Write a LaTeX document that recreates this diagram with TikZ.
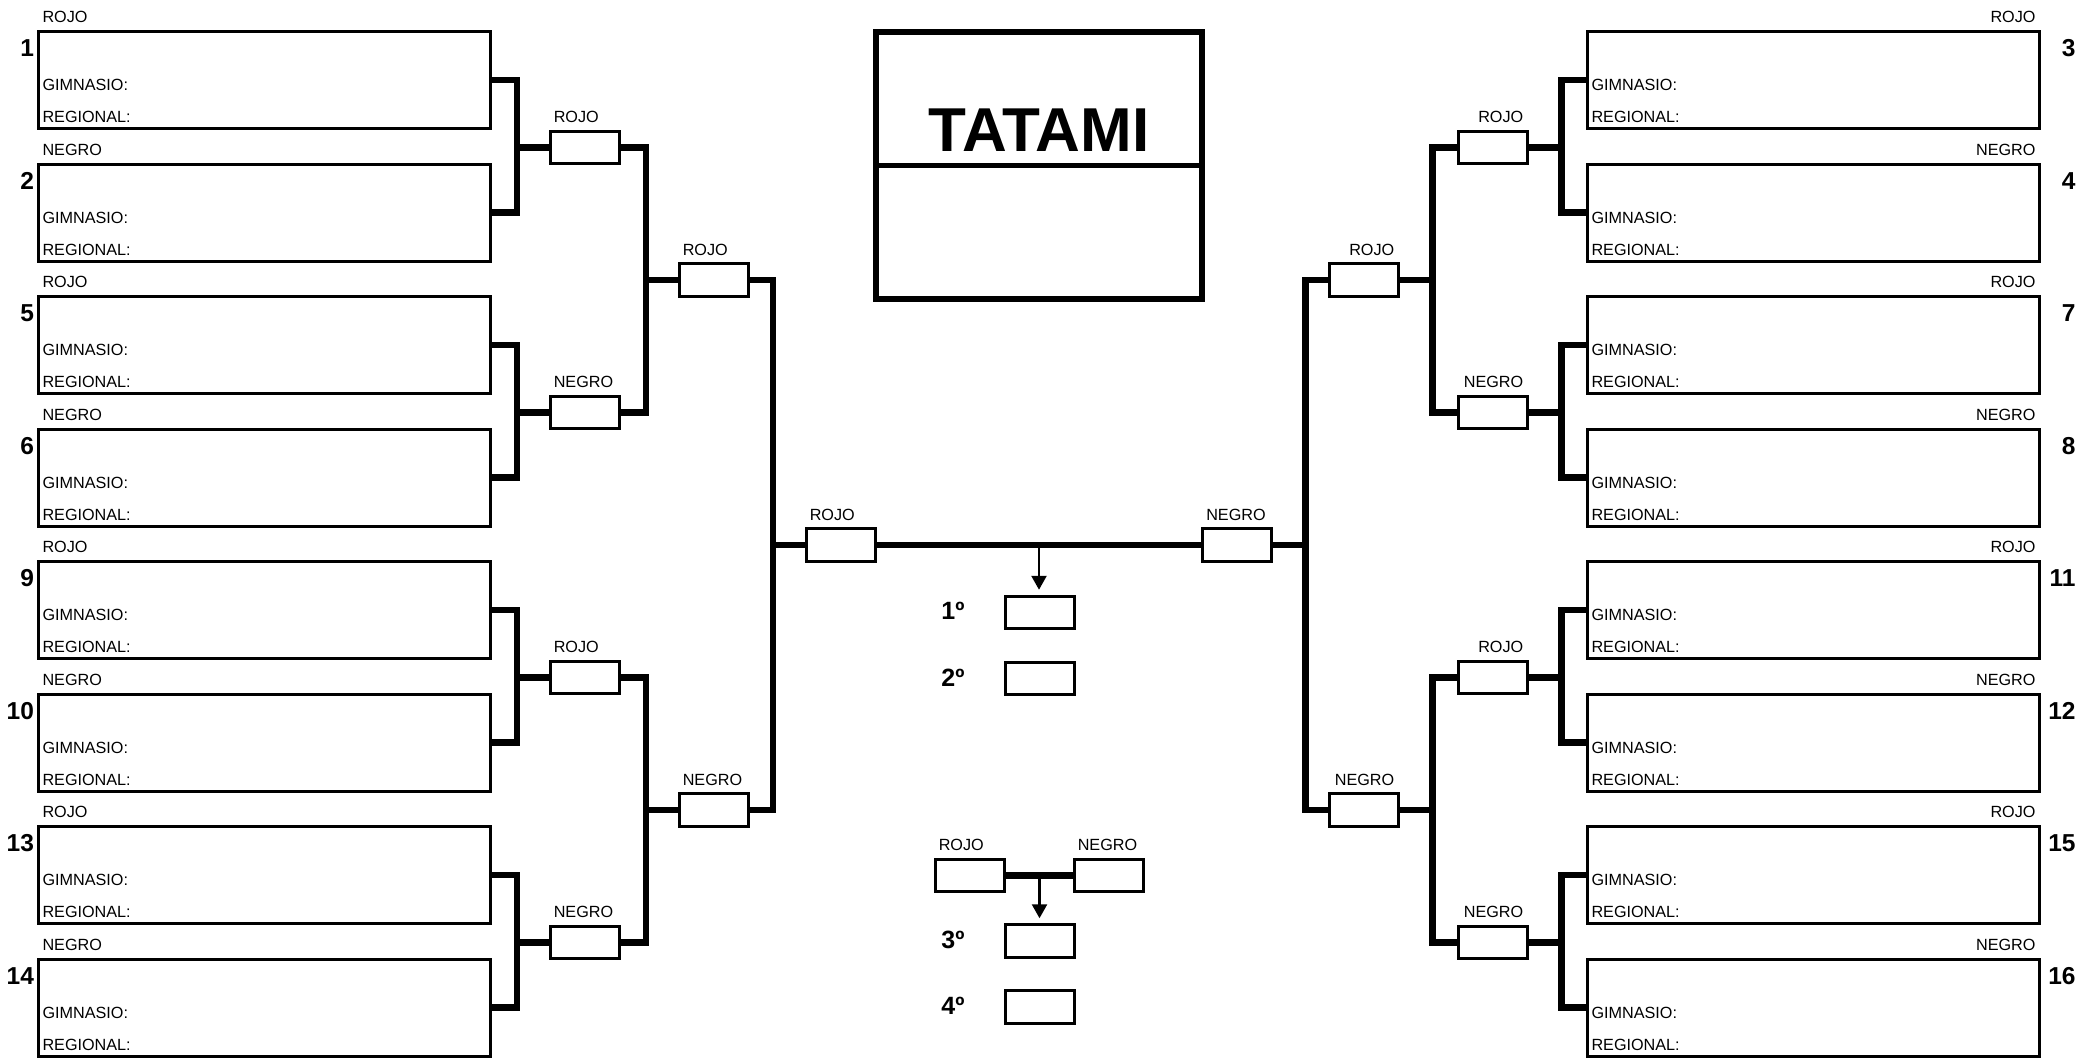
\documentclass[tikz,border=0pt]{standalone}
\usepackage{fontspec}
\setmainfont{Liberation Sans}
\usetikzlibrary{arrows.meta,calc}
\newcommand\lblfont{\fontsize{16.2}{19}\selectfont}
\newcommand\numfont{\fontsize{24.5}{28}\selectfont\bfseries}
\newcommand\placefont{\fontsize{25}{30}\selectfont\bfseries}
\newcommand\tatfont{\fontsize{62}{70}\selectfont\bfseries}
\begin{document}
\begin{tikzpicture}[x=1pt,y=-1pt,
  comp/.style={draw,line width=3pt,minimum width=452pt,minimum height=97pt,inner sep=0pt,outer sep=0pt},
  sbox/.style={draw,line width=3pt,minimum width=68.5pt,minimum height=32.5pt,inner sep=0pt,outer sep=0pt},
  conn/.style={line width=6.5pt},
  txt/.style={inner sep=0pt,outer sep=0pt,font=\lblfont},
  num/.style={inner sep=0pt,outer sep=0pt,font=\numfont},
  plc/.style={inner sep=0pt,outer sep=0pt,font=\placefont},
  arr/.style={line width=2.5pt,-{Triangle[width=15pt,length=14pt]},shorten >=6.5pt}]
\fill[white] (0,0) rectangle (2078,1058);
\useasboundingbox (0,0) rectangle (2078,1058);

% left competitors
\foreach \n/\c [count=\i from 0] in {1/ROJO,2/NEGRO,5/ROJO,6/NEGRO,9/ROJO,10/NEGRO,13/ROJO,14/NEGRO}{
  \node[comp,anchor=north west] (L\i) at (38.5,{31.5+132.53*\i}) {};
  \node[txt,anchor=base west] (Lc\i) at ([xshift=4pt,yshift=9pt]L\i.north west) {\c};
  \node[txt,anchor=base west] (Lg\i) at ([xshift=4pt,yshift=-59pt]L\i.north west) {GIMNASIO:};
  \node[txt,anchor=base west] (Lr\i) at ([xshift=4pt,yshift=-91pt]L\i.north west) {REGIONAL:};
  \node[num,anchor=base east] (Ln\i) at ([xshift=-4.5pt,yshift=-25pt]L\i.north west) {\n};
}
% right competitors
\foreach \n/\c [count=\i from 0] in {3/ROJO,4/NEGRO,7/ROJO,8/NEGRO,11/ROJO,12/NEGRO,15/ROJO,16/NEGRO}{
  \node[comp,anchor=north east] (R\i) at (2039.5,{31.5+132.53*\i}) {};
  \node[txt,anchor=base east] (Rc\i) at ([xshift=-4pt,yshift=9pt]R\i.north east) {\c};
  \node[txt,anchor=base west] (Rg\i) at ([xshift=4pt,yshift=-59pt]R\i.north west) {GIMNASIO:};
  \node[txt,anchor=base west] (Rr\i) at ([xshift=4pt,yshift=-91pt]R\i.north west) {REGIONAL:};
  \node[num,anchor=base east] (Rn\i) at ([xshift=36pt,yshift=-25pt]R\i.north east) {\n};
}

% left bracket boxes
\node[sbox] (la1) at (585,147.3) {};
\node[sbox] (la2) at (585,412.3) {};
\node[sbox] (la3) at (585,677.4) {};
\node[sbox] (la4) at (585,942.4) {};
\node[sbox] (lb1) at (714,279.8) {};
\node[sbox] (lb2) at (714,809.9) {};
\node[sbox] (ls) at (841,545) {};
\node[txt,anchor=base west] (la1t) at ([xshift=3pt,yshift=8.5pt]la1.north west) {ROJO};
\node[txt,anchor=base west] (la2t) at ([xshift=3pt,yshift=8.5pt]la2.north west) {NEGRO};
\node[txt,anchor=base west] (la3t) at ([xshift=3pt,yshift=8.5pt]la3.north west) {ROJO};
\node[txt,anchor=base west] (la4t) at ([xshift=3pt,yshift=8.5pt]la4.north west) {NEGRO};
\node[txt,anchor=base west] (lb1t) at ([xshift=3pt,yshift=8.5pt]lb1.north west) {ROJO};
\node[txt,anchor=base west] (lb2t) at ([xshift=3pt,yshift=8.5pt]lb2.north west) {NEGRO};
\node[txt,anchor=base west] (lst) at ([xshift=3pt,yshift=8.5pt]ls.north west) {ROJO};

% right bracket boxes
\node[sbox] (ra1) at (1493,147.3) {};
\node[sbox] (ra2) at (1493,412.3) {};
\node[sbox] (ra3) at (1493,677.4) {};
\node[sbox] (ra4) at (1493,942.4) {};
\node[sbox] (rb1) at (1364,279.8) {};
\node[sbox] (rb2) at (1364,809.9) {};
\node[sbox] (rs) at (1237,545) {};
\node[txt,anchor=base east] (ra1t) at ([xshift=-4pt,yshift=8.5pt]ra1.north east) {ROJO};
\node[txt,anchor=base east] (ra2t) at ([xshift=-4pt,yshift=8.5pt]ra2.north east) {NEGRO};
\node[txt,anchor=base east] (ra3t) at ([xshift=-4pt,yshift=8.5pt]ra3.north east) {ROJO};
\node[txt,anchor=base east] (ra4t) at ([xshift=-4pt,yshift=8.5pt]ra4.north east) {NEGRO};
\node[txt,anchor=base east] (rb1t) at ([xshift=-4pt,yshift=8.5pt]rb1.north east) {ROJO};
\node[txt,anchor=base east] (rb2t) at ([xshift=-4pt,yshift=8.5pt]rb2.north east) {NEGRO};
\node[txt,anchor=base west] (rst) at ([xshift=3.5pt,yshift=8.5pt]rs.north west) {NEGRO};

% left connectors
\draw[conn] (L0.east) -| ([xshift=-34pt]la1.west) |- (L1.east) ([xshift=-34pt]la1.west) -- (la1.west);
\draw[conn] (L2.east) -| ([xshift=-34pt]la2.west) |- (L3.east) ([xshift=-34pt]la2.west) -- (la2.west);
\draw[conn] (L4.east) -| ([xshift=-34pt]la3.west) |- (L5.east) ([xshift=-34pt]la3.west) -- (la3.west);
\draw[conn] (L6.east) -| ([xshift=-34pt]la4.west) |- (L7.east) ([xshift=-34pt]la4.west) -- (la4.west);
\draw[conn] (la1.east) -| ([xshift=-34pt]lb1.west) |- (la2.east) ([xshift=-34pt]lb1.west) -- (lb1.west);
\draw[conn] (la3.east) -| ([xshift=-34pt]lb2.west) |- (la4.east) ([xshift=-34pt]lb2.west) -- (lb2.west);
\draw[conn] (lb1.east) -| ([xshift=-34pt]ls.west) |- (lb2.east) ([xshift=-34pt]ls.west) -- (ls.west);

% right connectors
\draw[conn] (R0.west) -| ([xshift=34pt]ra1.east) |- (R1.west) ([xshift=34pt]ra1.east) -- (ra1.east);
\draw[conn] (R2.west) -| ([xshift=34pt]ra2.east) |- (R3.west) ([xshift=34pt]ra2.east) -- (ra2.east);
\draw[conn] (R4.west) -| ([xshift=34pt]ra3.east) |- (R5.west) ([xshift=34pt]ra3.east) -- (ra3.east);
\draw[conn] (R6.west) -| ([xshift=34pt]ra4.east) |- (R7.west) ([xshift=34pt]ra4.east) -- (ra4.east);
\draw[conn] (ra1.west) -| ([xshift=34pt]rb1.east) |- (ra2.west) ([xshift=34pt]rb1.east) -- (rb1.east);
\draw[conn] (ra3.west) -| ([xshift=34pt]rb2.east) |- (ra4.west) ([xshift=34pt]rb2.east) -- (rb2.east);
\draw[conn] (rb1.west) -| ([xshift=34pt]rs.east) |- (rb2.west) ([xshift=34pt]rs.east) -- (rs.east);

% final
\draw[conn] (ls.east) -- (rs.west);

% TATAMI
\node[draw,line width=6pt,minimum width=326pt,minimum height=267pt,inner sep=0pt,outer sep=0pt] (tat) at (1039,165.5) {};
\draw[line width=5pt] (tat.west) -- (tat.east);
\node[inner sep=0pt,font=\tatfont] (tatt) at (1039,130.5) {TATAMI};

% places
\node[sbox] (p1) at (1040,612.5) {};
\node[sbox] (p2) at (1040,678.5) {};
\node[sbox] (p3) at (1040,941) {};
\node[sbox] (p4) at (1040,1007) {};
\node[plc] (p1l) at (953,611) {1º};
\node[plc] (p2l) at (953,677.5) {2º};
\node[plc] (p3l) at (953,940) {3º};
\node[plc] (p4l) at (953,1006) {4º};

\coordinate (fm) at ($(ls.east)!0.5!(rs.west)$);
\draw[arr] (fm) -- (fm |- p1.north);

% third place match
\node[sbox] (t1) at (970,875.5) {};
\node[sbox] (t2) at (1109,875.5) {};
\node[txt,anchor=base west] (t1t) at ([xshift=3pt,yshift=8.5pt]t1.north west) {ROJO};
\node[txt,anchor=base west] (t2t) at ([xshift=3pt,yshift=8.5pt]t2.north west) {NEGRO};
\draw[conn] ([xshift=2pt]t1.east) -- ([xshift=-2pt]t2.west);
\coordinate (tm) at ($(t1.east)!0.5!(t2.west)$);
\draw[arr] (tm) -- (tm |- p3.north);
\end{tikzpicture}
\end{document}
